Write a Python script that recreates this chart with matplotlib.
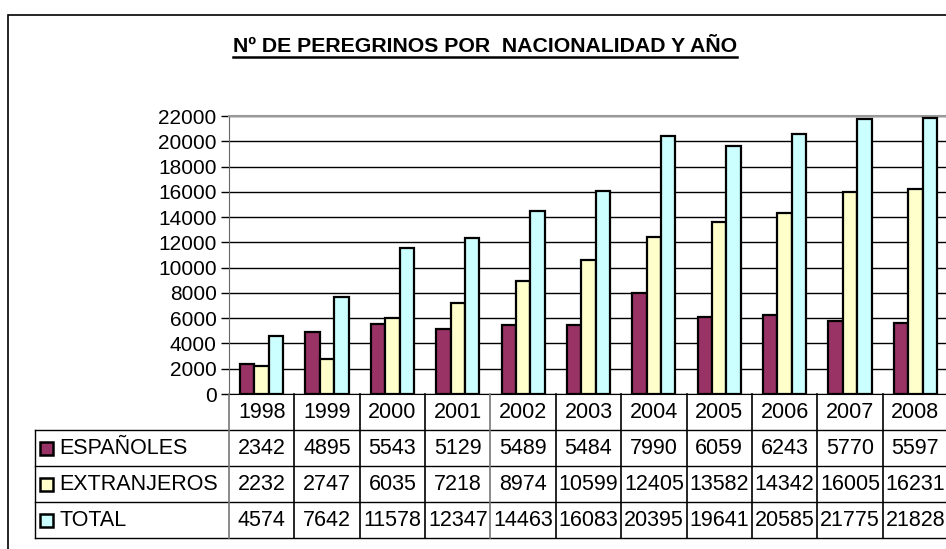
import matplotlib.pyplot as plt
import matplotlib.transforms as mtransforms
from matplotlib.patches import Rectangle
from matplotlib.lines import Line2D

plt.rcParams['font.family'] = ['Liberation Sans', 'DejaVu Sans']

# Data
years = ["1998", "1999", "2000", "2001", "2002", "2003", "2004", "2005", "2006", "2007", "2008"]
espanoles = [2342, 4895, 5543, 5129, 5489, 5484, 7990, 6059, 6243, 5770, 5597]
extranjeros = [2232, 2747, 6035, 7218, 8974, 10599, 12405, 13582, 14342, 16005, 16231]
total = [4574, 7642, 11578, 12347, 14463, 16083, 20395, 19641, 20585, 21775, 21828]
series_names = ["ESPAÑOLES", "EXTRANJEROS", "TOTAL"]
series_colors = ["#993366", "#FFFFCC", "#CCFFFF"]
series = [espanoles, extranjeros, total]

W, H = 946, 549
fig = plt.figure(figsize=(W / 100, H / 100), dpi=100)
fx = lambda px: px / W
fy = lambda py: 1 - py / H

# outer chart border
fig.patches.append(Rectangle((fx(8), fy(560)), fx(960) - fx(8), fy(15) - fy(560),
                             transform=fig.transFigure, fill=False, ec="black", lw=1.2))

# plot area
ax = fig.add_axes([fx(229), fy(394), fx(948) - fx(229), fy(116) - fy(394)])
x = range(len(years))
bw = 0.22
for k, (vals, col) in enumerate(zip(series, series_colors)):
    ax.bar([i + (k - 1) * bw for i in x], vals, width=bw, color=col,
           edgecolor="black", linewidth=1.6, zorder=3)

ax.set_xlim(-0.5, 10.5)
ax.set_ylim(0, 22000)
ax.set_yticks(range(0, 22001, 2000))
ax.set_yticklabels([str(v) for v in range(0, 22001, 2000)], fontsize=15)
ax.tick_params(axis="y", length=6, width=1, pad=3)
ax.set_xticks([])
ax.yaxis.grid(True, color="black", linewidth=1, zorder=0)
for s in ["top", "right"]:
    ax.spines[s].set_color("#999999")
    ax.spines[s].set_linewidth(1.5)
ax.spines["left"].set_color("#666666")
ax.spines["bottom"].set_color("black")

# data table below the chart
fs = 15.5
bt = mtransforms.blended_transform_factory(ax.transData, fig.transFigure)
row_edges = [394, 430, 466, 502, 538]
for r in row_edges[1:]:
    fig.add_artist(Line2D([fx(35), fx(960)], [fy(r), fy(r)], color="black", lw=1,
                          transform=fig.transFigure))
fig.add_artist(Line2D([fx(35), fx(35)], [fy(430), fy(538)], color="black", lw=1,
                      transform=fig.transFigure))
for i in range(len(years) + 1):
    c = "#777777" if i in (0, 4) else "black"
    fig.add_artist(Line2D([i - 0.5, i - 0.5], [fy(394), fy(538)], color=c, lw=1.2,
                          transform=bt))

for i, yr in enumerate(years):
    fig.text(i, fy(412), yr, transform=bt, ha="center", va="center", fontsize=fs)
    for k, vals in enumerate(series):
        fig.text(i, fy(448 + 36 * k), str(vals[i]), transform=bt,
                 ha="center", va="center", fontsize=fs)

for k, (name, col) in enumerate(zip(series_names, series_colors)):
    yc = 448 + 36 * k
    fig.patches.append(Rectangle((fx(40), fy(yc + 7)), fx(53) - fx(40), fy(yc - 6) - fy(yc + 7),
                                 transform=fig.transFigure, fc=col, ec="black", lw=1.8))
    fig.text(fx(59), fy(yc + 1), name, ha="left", va="center", fontsize=fs)

# title with underline
t = fig.text(fx(485), fy(46), "Nº DE PEREGRINOS POR  NACIONALIDAD Y AÑO",
             ha="center", va="center", fontsize=15.3, fontweight="bold")
fig.canvas.draw()
bb = t.get_window_extent().transformed(fig.transFigure.inverted())
fig.add_artist(Line2D([bb.x0, bb.x1], [fy(57), fy(57)], color="black", lw=1.8,
                      transform=fig.transFigure))

fig.savefig("out.png", dpi=100)
